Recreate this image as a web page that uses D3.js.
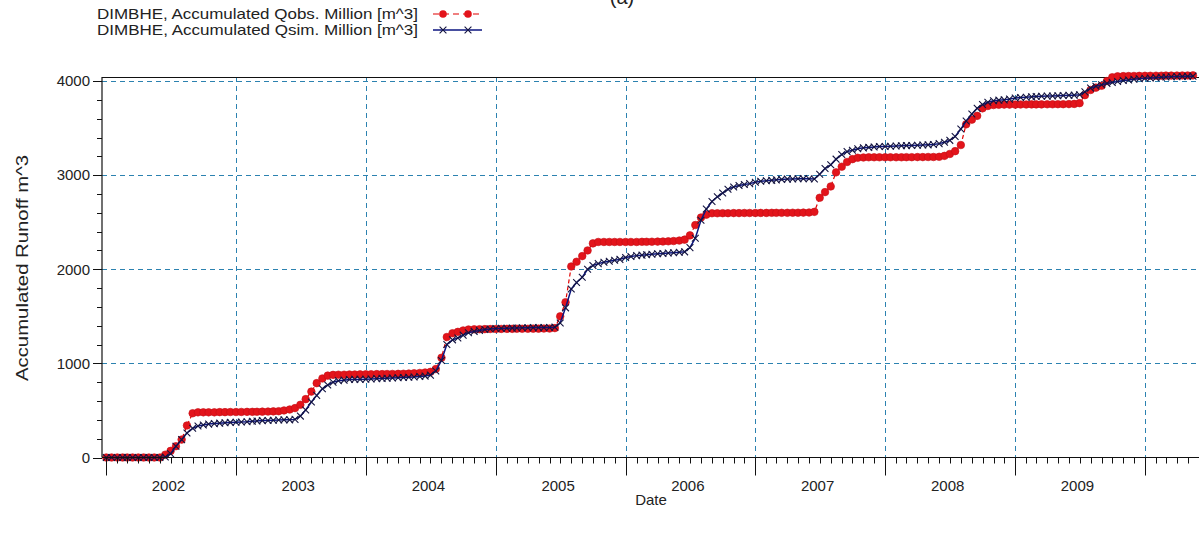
<!DOCTYPE html>
<html>
<head>
<meta charset="utf-8">
<script src="https://cdn.jsdelivr.net/npm/d3@7"></script>
<style>
  html, body { margin: 0; padding: 0; background: #fff; }
  svg { display: block; font-family: Arial, "Liberation Sans", sans-serif; }
</style>
</head>
<body>
<svg id="chart" width="1199" height="535"></svg>
<script>
// Accumulated runoff, station DIMBHE, semi-monthly values (1st and 16th of each month), million m^3
const seriesStart = "2002-01-01";

const qObs2002 = [0, 0, 0, 0, 0, 0, 0, 0, 0, 0, 0, 30, 70, 120, 190, 340, 470, 480, 480, 480, 480, 482, 482, 483];
const qObs2003 = [483, 484, 485, 485, 486, 487, 488, 490, 492, 500, 510, 525, 560, 620, 700, 790, 840, 870, 878, 880, 880, 882, 882, 883];
const qObs2004 = [884, 885, 886, 886, 887, 888, 889, 890, 892, 895, 898, 903, 910, 940, 1060, 1280, 1320, 1335, 1350, 1360, 1362, 1363, 1364, 1365];
const qObs2005 = [1366, 1366, 1367, 1367, 1368, 1368, 1368, 1369, 1369, 1370, 1370, 1375, 1500, 1650, 2030, 2080, 2140, 2200, 2275, 2290, 2290, 2290, 2290, 2290];
const qObs2006 = [2290, 2290, 2290, 2292, 2292, 2293, 2294, 2295, 2297, 2300, 2305, 2315, 2360, 2470, 2550, 2580, 2595, 2595, 2596, 2596, 2597, 2597, 2598, 2598];
const qObs2007 = [2598, 2599, 2599, 2600, 2600, 2600, 2600, 2601, 2601, 2602, 2603, 2610, 2760, 2820, 2880, 3030, 3090, 3140, 3170, 3185, 3188, 3190, 3190, 3190];
const qObs2008 = [3190, 3190, 3190, 3190, 3191, 3191, 3192, 3192, 3193, 3193, 3195, 3205, 3225, 3255, 3320, 3540, 3590, 3630, 3710, 3735, 3745, 3748, 3750, 3750];
const qObs2009 = [3750, 3751, 3751, 3752, 3752, 3752, 3753, 3753, 3754, 3754, 3755, 3757, 3765, 3850, 3905, 3930, 3950, 4000, 4040, 4050, 4052, 4053, 4054, 4055];
const qObs2010 = [4056, 4056, 4057, 4057, 4058, 4058, 4058, 4059, 4059, 4060];

const qSim2002 = [0, 0, 0, 0, 0, 0, 0, 0, 0, 0, 0, 5, 40, 120, 190, 260, 310, 335, 345, 355, 360, 365, 370, 373];
const qSim2003 = [375, 378, 380, 385, 388, 392, 394, 396, 398, 400, 400, 405, 440, 505, 590, 660, 730, 770, 800, 815, 822, 828, 830, 830];
const qSim2004 = [832, 835, 838, 840, 842, 845, 848, 850, 852, 855, 860, 865, 875, 920, 1030, 1200, 1250, 1270, 1300, 1325, 1340, 1350, 1360, 1365];
const qSim2005 = [1370, 1372, 1374, 1375, 1376, 1378, 1378, 1380, 1380, 1380, 1382, 1385, 1430, 1590, 1790, 1860, 1915, 2000, 2040, 2060, 2075, 2085, 2095, 2105];
const qSim2006 = [2125, 2135, 2145, 2150, 2155, 2160, 2165, 2168, 2172, 2176, 2180, 2185, 2230, 2330, 2520, 2640, 2720, 2770, 2810, 2850, 2875, 2890, 2900, 2910];
const qSim2007 = [2925, 2935, 2940, 2945, 2950, 2955, 2958, 2960, 2962, 2963, 2962, 2960, 3010, 3070, 3110, 3170, 3220, 3250, 3265, 3280, 3290, 3295, 3300, 3305];
const qSim2008 = [3305, 3308, 3310, 3312, 3314, 3316, 3318, 3320, 3322, 3325, 3335, 3350, 3370, 3410, 3490, 3575, 3650, 3710, 3750, 3775, 3790, 3797, 3800, 3808];
const qSim2009 = [3820, 3825, 3828, 3832, 3835, 3838, 3840, 3842, 3844, 3846, 3848, 3850, 3855, 3885, 3925, 3945, 3960, 3975, 3985, 3995, 4005, 4012, 4020, 4025];
const qSim2010 = [4030, 4033, 4036, 4040, 4043, 4045, 4047, 4048, 4050, 4052];

const yearLabels = ["2002", "2003", "2004", "2005", "2006", "2007", "2008", "2009"];
const yMajorTicks = [0, 1000, 2000, 3000, 4000];
const yMinorTicks = [200, 400, 600, 800, 1200, 1400, 1600, 1800, 2200, 2400, 2600, 2800, 3200, 3400, 3600, 3800];

const legendLabels = [
  "DIMBHE, Accumulated Qobs. Million [m^3]",
  "DIMBHE, Accumulated Qsim. Million  [m^3]"
];

const qObs = [].concat(qObs2002, qObs2003, qObs2004, qObs2005, qObs2006, qObs2007, qObs2008, qObs2009, qObs2010);
const qSim = [].concat(qSim2002, qSim2003, qSim2004, qSim2005, qSim2006, qSim2007, qSim2008, qSim2009, qSim2010);

// semi-monthly sampling dates: 1st and 16th of every month
const firstMonth = new Date(seriesStart + "T00:00:00Z");
const dates = [];
for (let i = 0; i < qObs.length; i++) {
  const m = d3.utcMonth.offset(firstMonth, Math.floor(i / 2));
  dates.push(i % 2 === 0 ? m : d3.utcDay.offset(m, 15));
}
const obsData = dates.map((d, i) => ({ date: d, v: qObs[i] }));
const simData = dates.map((d, i) => ({ date: d, v: qSim[i] }));

const svg = d3.select("#chart");
const plotLeft = 102, plotRight = 1199, plotTop = 77, plotBottom = 457.5;

const x = d3.scaleUtc()
  .domain([new Date("2001-12-20T00:00:00Z"), new Date("2010-06-02T00:00:00Z")])
  .range([plotLeft, plotRight]);
const y = d3.scaleLinear().domain([0, 4043]).range([plotBottom, plotTop]);

const gridColor = "#2c82b0";
const axisColor = "#111";
const textColor = "#222";

// dashed grid
const grid = svg.append("g");
grid.selectAll("line.gy").data(yMajorTicks.filter(v => v > 0)).join("line")
  .attr("x1", plotLeft).attr("x2", plotRight)
  .attr("y1", d => Math.round(y(d)) + 0.5).attr("y2", d => Math.round(y(d)) + 0.5)
  .attr("stroke", gridColor).attr("stroke-width", 1).attr("stroke-dasharray", "5,4");
const yearStarts = yearLabels.map(s => new Date((+s + 1) + "-01-01T00:00:00Z"));
grid.selectAll("line.gx").data(yearStarts).join("line")
  .attr("x1", d => Math.round(x(d)) + 0.5).attr("x2", d => Math.round(x(d)) + 0.5)
  .attr("y1", plotTop).attr("y2", plotBottom)
  .attr("stroke", gridColor).attr("stroke-width", 1).attr("stroke-dasharray", "5,4");

// frame: top border
svg.append("line")
  .attr("x1", plotLeft).attr("x2", plotRight).attr("y1", plotTop + 0.5).attr("y2", plotTop + 0.5)
  .attr("stroke", axisColor).attr("stroke-width", 1.2);

// observed series: red dashed line with filled circles
const lineGen = d3.line().x(d => x(d.date)).y(d => y(d.v));
svg.append("path").datum(obsData)
  .attr("d", lineGen).attr("fill", "none")
  .attr("stroke", "#e00000").attr("stroke-width", 1.2).attr("stroke-dasharray", "4,3");
svg.append("g").selectAll("circle").data(obsData).join("circle")
  .attr("cx", d => x(d.date)).attr("cy", d => y(d.v)).attr("r", 3.8)
  .attr("fill", "#e3141b").attr("stroke", "#c40f15").attr("stroke-width", 0.6);

// simulated series: navy line with x markers
svg.append("path").datum(simData)
  .attr("d", lineGen).attr("fill", "none")
  .attr("stroke", "#0b1580").attr("stroke-width", 1.5);
const xMark = (cx, cy, s) => `M${cx - s},${cy - s}L${cx + s},${cy + s}M${cx - s},${cy + s}L${cx + s},${cy - s}`;
svg.append("g").selectAll("path").data(simData).join("path")
  .attr("d", d => xMark(x(d.date), y(d.v), 3.4))
  .attr("stroke", "#141440").attr("stroke-width", 1.1).attr("fill", "none");

// x axis with monthly minor ticks and yearly major ticks
const xAxisG = svg.append("g").attr("transform", `translate(0,${plotBottom})`);
xAxisG.append("line").attr("x1", plotLeft).attr("x2", plotRight).attr("y1", 0).attr("y2", 0)
  .attr("stroke", axisColor).attr("stroke-width", 1.2);
const months = d3.utcMonth.range(x.domain()[0], x.domain()[1]);
xAxisG.selectAll("line.mt").data(months).join("line")
  .attr("x1", d => Math.round(x(d)) + 0.5).attr("x2", d => Math.round(x(d)) + 0.5)
  .attr("y1", 0).attr("y2", d => d.getUTCMonth() === 0 ? 18 : 6)
  .attr("stroke", axisColor).attr("stroke-width", 1);
xAxisG.selectAll("text").data(yearLabels).join("text")
  .attr("x", d => x(new Date(d + "-06-25T00:00:00Z")))
  .attr("y", 33)
  .attr("text-anchor", "middle").attr("font-size", 15).attr("fill", textColor)
  .text(d => d);

// y axis
const yAxisG = svg.append("g").attr("transform", `translate(${plotLeft},0)`);
yAxisG.append("line").attr("x1", 0).attr("x2", 0).attr("y1", plotTop).attr("y2", plotBottom)
  .attr("stroke", axisColor).attr("stroke-width", 1.2);
yAxisG.selectAll("line.minor").data(yMinorTicks).join("line")
  .attr("x1", -5).attr("x2", 0)
  .attr("y1", d => Math.round(y(d)) + 0.5).attr("y2", d => Math.round(y(d)) + 0.5)
  .attr("stroke", axisColor);
yAxisG.selectAll("line.major").data(yMajorTicks).join("line")
  .attr("x1", -9).attr("x2", 0)
  .attr("y1", d => Math.round(y(d)) + 0.5).attr("y2", d => Math.round(y(d)) + 0.5)
  .attr("stroke", axisColor);
yAxisG.selectAll("text").data(yMajorTicks).join("text")
  .attr("x", -12).attr("y", d => y(d)).attr("dy", "0.35em")
  .attr("text-anchor", "end").attr("font-size", 15).attr("fill", textColor)
  .text(d => d);

// axis titles
svg.append("text")
  .attr("transform", "translate(28,268) rotate(-90)")
  .attr("text-anchor", "middle").attr("font-size", 17).attr("fill", textColor)
  .attr("textLength", 226).attr("lengthAdjust", "spacingAndGlyphs")
  .text("Accumulated Runoff m^3");
svg.append("text")
  .attr("x", 651).attr("y", 505)
  .attr("text-anchor", "middle").attr("font-size", 15).attr("fill", textColor)
  .text("Date");

// panel caption, partly above the page edge
svg.append("text")
  .attr("x", 622).attr("y", 4)
  .attr("text-anchor", "middle").attr("font-size", 20).attr("fill", textColor)
  .text("(a)");

// legend
const legend = svg.append("g");
legend.selectAll("text").data(legendLabels).join("text")
  .attr("x", 97).attr("y", (d, i) => 19 + i * 16)
  .attr("font-size", 15).attr("fill", textColor)
  .attr("textLength", 321).attr("lengthAdjust", "spacingAndGlyphs")
  .text(d => d);
legend.append("line").attr("x1", 433).attr("x2", 482).attr("y1", 14).attr("y2", 14)
  .attr("stroke", "#e00000").attr("stroke-width", 1.2).attr("stroke-dasharray", "6,4");
legend.selectAll("circle").data([443, 468]).join("circle")
  .attr("cx", d => d).attr("cy", 14).attr("r", 3.8).attr("fill", "#e3141b");
legend.append("line").attr("x1", 433).attr("x2", 482).attr("y1", 30).attr("y2", 30)
  .attr("stroke", "#0b1580").attr("stroke-width", 1.5);
legend.selectAll("path").data([443, 468]).join("path")
  .attr("d", d => xMark(d, 30, 3.4)).attr("stroke", "#141440").attr("stroke-width", 1.1).attr("fill", "none");
</script>
</body>
</html>
